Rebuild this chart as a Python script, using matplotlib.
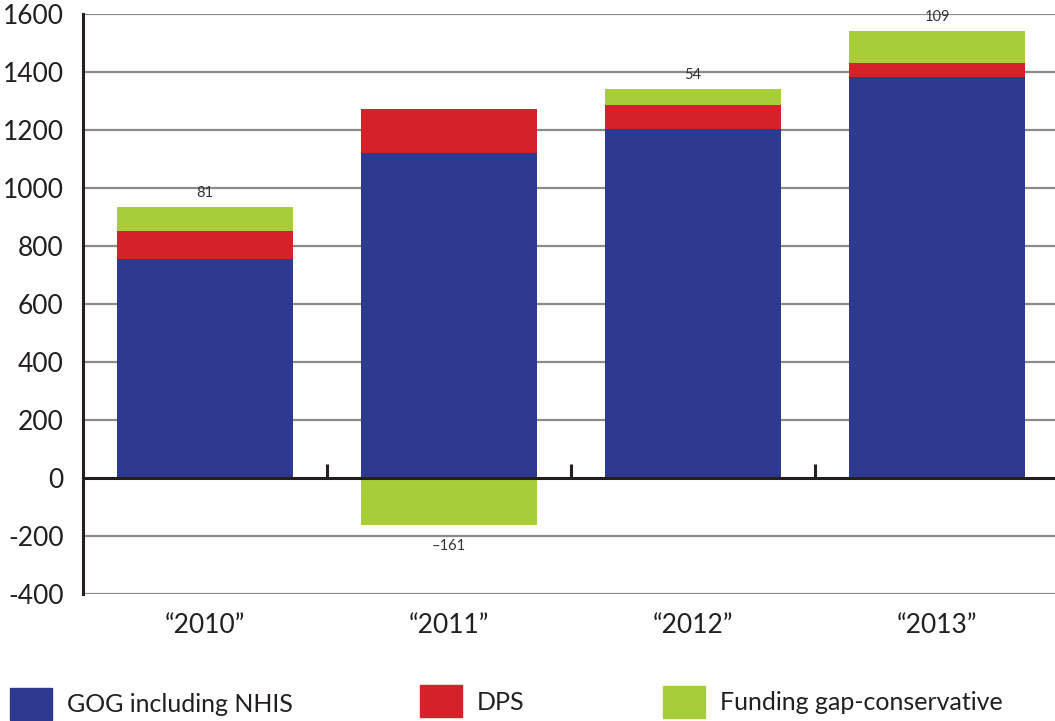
import matplotlib
matplotlib.use("Agg")
import matplotlib.pyplot as plt
import matplotlib.patches as patches
import numpy as np

plt.rcParams['font.family'] = ['Lato', 'DejaVu Sans']

# data
years = ['\u201c2010\u201d', '\u201c2011\u201d', '\u201c2012\u201d', '\u201c2013\u201d']
gog = [755, 1121, 1203, 1383]
dps = [97, 151, 83, 48]
gap = [81, -161, 54, 109]
gap_labels = ['81', '\u2013161', '54', '109']
series_names = ['GOG including NHIS', 'DPS', 'Funding gap-conservative']
colors = ['#2E3990', '#D6202A', '#A8CD3A']
yticks = [-400, -200, 0, 200, 400, 600, 800, 1000, 1200, 1400, 1600]

fig = plt.figure(figsize=(10.55, 7.21), dpi=100)
ax = fig.add_axes([83 / 1055, (721 - 594) / 721, 1 - 83 / 1055 + 0.004, 580 / 721])

x = np.arange(len(years))
w = 0.72
gog = np.array(gog)
dps = np.array(dps)
gap = np.array(gap)

ax.bar(x, gog, w, color=colors[0], zorder=3)
ax.bar(x, dps, w, bottom=gog, color=colors[1], zorder=3)
# positive gap stacks on top, negative gap hangs below zero
gap_bottom = np.where(gap > 0, gog + dps, 0)
ax.bar(x, gap, w, bottom=gap_bottom, color=colors[2], zorder=3)

for i, g in enumerate(gap):
    if g > 0:
        ax.annotate(gap_labels[i], (x[i], gap_bottom[i] + g), xytext=(0, 5),
                    textcoords='offset points', ha='center', va='bottom',
                    fontsize=10.5, color='#333333')
    else:
        ax.annotate(gap_labels[i], (x[i], g), xytext=(0, -10),
                    textcoords='offset points', ha='center', va='top',
                    fontsize=10.5, color='#333333')

ax.set_xlim(-0.5, len(years) - 0.5)
ax.set_ylim(-400, 1600)
ax.set_yticks(yticks)
ax.set_yticklabels([str(t) for t in yticks], fontsize=19, color='#231f20')
ax.set_xticks(x)
ax.set_xticklabels(years, fontsize=19, color='#231f20')
ax.tick_params(axis='both', length=0)
ax.tick_params(axis='y', pad=14)
ax.tick_params(axis='x', pad=14)

for t in yticks:
    if t != 0:
        ax.axhline(t, color='#8a8a8a', lw=1.6, zorder=1)
ax.axhline(0, color='#231f20', lw=2.2, zorder=4)
ax.vlines(x[:-1] + 0.5, 0, 50, color='#231f20', lw=2.2, zorder=4)

for s in ['top', 'right', 'bottom']:
    ax.spines[s].set_visible(False)
ax.spines['left'].set_color('#231f20')
ax.spines['left'].set_linewidth(2.2)

# legend along the bottom
legend_x = [10, 420, 663]
legend_y = [688, 685, 686]
for name, c, lx, ly in zip(series_names, colors, legend_x, legend_y):
    fig.patches.append(patches.Rectangle((lx / 1055, 1 - (ly + 32) / 721), 42 / 1055, 32 / 721,
                                         transform=fig.transFigure, color=c))
    fig.text((lx + 57) / 1055, 1 - (ly + 17) / 721, name, fontsize=18,
             color='#231f20', va='center', ha='left')

fig.savefig('out.png', dpi=100)
